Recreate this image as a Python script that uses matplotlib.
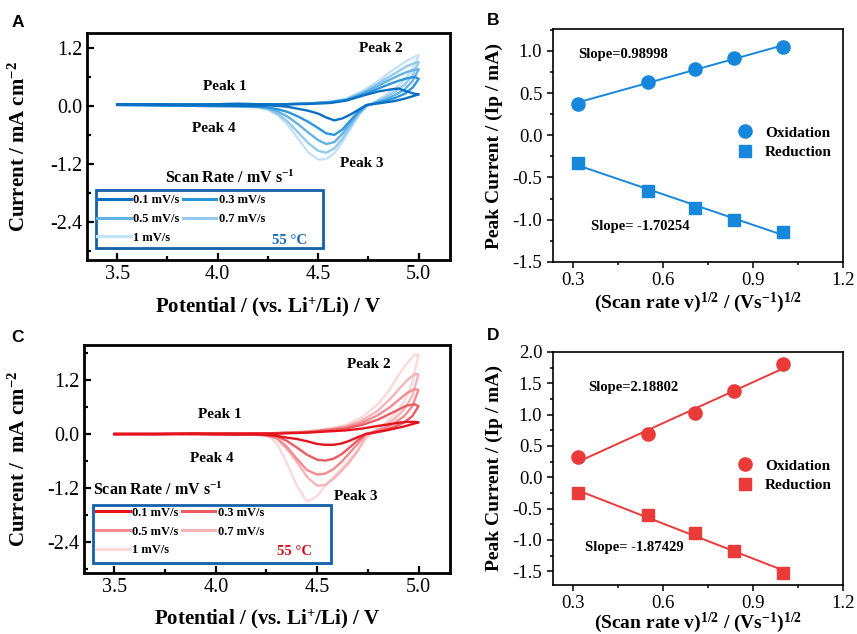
import matplotlib
matplotlib.use("Agg")
import matplotlib.pyplot as plt
import numpy as np
from matplotlib.patches import Rectangle
from matplotlib.lines import Line2D
from matplotlib.ticker import MultipleLocator, FormatStrFormatter
import matplotlib.transforms as mtrans

plt.rcParams.update({
    "font.family": ["Liberation Serif", "DejaVu Serif"],
    "mathtext.fontset": "custom",
    "mathtext.rm": "Liberation Serif:bold",
    "mathtext.it": "Liberation Serif:bold",
    "mathtext.bf": "Liberation Serif:bold",
    "axes.unicode_minus": False,
})

# ---------------- data ----------------
scan_labels = ["0.1 mV/s", "0.3 mV/s", "0.5 mV/s", "0.7 mV/s", "1 mV/s"]

# CV potential grids (V)
fwd_x = [3.5, 3.7, 3.9, 4.1, 4.3, 4.45, 4.56, 4.64, 4.72, 4.8, 4.86, 4.9, 4.94, 4.98, 5.0]
rev_x = [5.0, 4.97, 4.93, 4.88, 4.83, 4.78, 4.74, 4.7, 4.66, 4.62, 4.58, 4.54, 4.5,
         4.45, 4.4, 4.35, 4.3, 4.25, 4.2, 4.1, 3.9, 3.7, 3.5]

# Panel A (blue) currents, mA cm-2
a_fwd_01 = [0.03, 0.03, 0.03, 0.04, 0.03, 0.04, 0.06, 0.11, 0.21, 0.30, 0.34, 0.36, 0.30, 0.25, 0.24]
a_fwd_03 = [0.03, 0.03, 0.03, 0.04, 0.03, 0.05, 0.07, 0.12, 0.23, 0.36, 0.46, 0.52, 0.57, 0.60, 0.56]
a_fwd_05 = [0.03, 0.03, 0.03, 0.04, 0.03, 0.05, 0.08, 0.13, 0.26, 0.42, 0.55, 0.63, 0.70, 0.75, 0.76]
a_fwd_07 = [0.03, 0.03, 0.03, 0.04, 0.03, 0.05, 0.08, 0.14, 0.28, 0.47, 0.62, 0.72, 0.82, 0.89, 0.91]
a_fwd_10 = [0.03, 0.03, 0.03, 0.04, 0.03, 0.05, 0.09, 0.15, 0.31, 0.52, 0.71, 0.82, 0.93, 1.02, 1.05]

a_rev_01 = [0.24, 0.20, 0.15, 0.10, 0.07, 0.04, 0.02, -0.08, -0.18, -0.26, -0.30, -0.24, -0.16,
            -0.10, -0.06, -0.02, 0.0, 0.01, 0.0, 0.0, 0.01, 0.02, 0.03]
a_rev_03 = [0.56, 0.38, 0.25, 0.16, 0.10, 0.05, 0.01, -0.12, -0.30, -0.49, -0.60, -0.57, -0.46,
            -0.33, -0.22, -0.13, -0.07, -0.03, -0.01, 0.0, 0.0, 0.01, 0.02]
a_rev_05 = [0.76, 0.52, 0.34, 0.22, 0.13, 0.06, 0.0, -0.15, -0.36, -0.58, -0.75, -0.79, -0.71,
            -0.55, -0.38, -0.23, -0.12, -0.05, -0.02, -0.01, 0.0, 0.01, 0.02]
a_rev_07 = [0.91, 0.64, 0.44, 0.29, 0.17, 0.07, 0.0, -0.18, -0.43, -0.68, -0.88, -0.97, -0.93,
            -0.77, -0.55, -0.33, -0.17, -0.07, -0.03, -0.01, 0.0, 0.01, 0.02]
a_rev_10 = [1.05, 0.78, 0.54, 0.36, 0.21, 0.08, 0.0, -0.21, -0.48, -0.75, -0.98, -1.10, -1.11,
            -0.96, -0.68, -0.40, -0.20, -0.08, -0.03, -0.01, 0.0, 0.01, 0.02]

# Panel C (red) currents, mA cm-2
c_fwd_01 = [0.0, 0.0, 0.01, 0.01, 0.01, 0.03, 0.06, 0.08, 0.12, 0.18, 0.22, 0.25, 0.27, 0.27, 0.26]
c_fwd_03 = [0.0, 0.0, 0.01, 0.01, 0.02, 0.04, 0.08, 0.12, 0.20, 0.32, 0.45, 0.54, 0.63, 0.66, 0.62]
c_fwd_05 = [0.0, 0.0, 0.01, 0.01, 0.02, 0.05, 0.10, 0.15, 0.25, 0.42, 0.60, 0.75, 0.90, 1.00, 0.98]
c_fwd_07 = [0.0, 0.0, 0.01, 0.01, 0.02, 0.05, 0.11, 0.17, 0.30, 0.52, 0.78, 0.98, 1.18, 1.33, 1.33]
c_fwd_10 = [0.0, 0.0, 0.01, 0.01, 0.02, 0.06, 0.12, 0.20, 0.37, 0.66, 1.00, 1.30, 1.55, 1.76, 1.76]

c_rev_01 = [0.26, 0.22, 0.17, 0.12, 0.07, 0.03, 0.0, -0.07, -0.15, -0.21, -0.24, -0.24, -0.22,
            -0.16, -0.11, -0.08, -0.04, -0.02, -0.01, -0.01, 0.0, 0.0, 0.0]
c_rev_03 = [0.62, 0.40, 0.26, 0.16, 0.09, 0.04, 0.0, -0.14, -0.30, -0.45, -0.55, -0.59, -0.57,
            -0.46, -0.30, -0.15, -0.05, -0.02, -0.01, -0.01, 0.0, 0.0, 0.0]
c_rev_05 = [0.98, 0.62, 0.40, 0.24, 0.13, 0.05, 0.0, -0.22, -0.42, -0.62, -0.78, -0.88, -0.90,
            -0.80, -0.55, -0.28, -0.09, -0.03, -0.01, -0.01, 0.0, 0.0, 0.0]
c_rev_07 = [1.33, 0.85, 0.55, 0.33, 0.18, 0.06, -0.05, -0.38, -0.62, -0.82, -1.00, -1.13, -1.15,
            -0.95, -0.62, -0.33, -0.10, -0.04, -0.02, -0.01, 0.0, 0.0, 0.0]
c_rev_10 = [1.76, 1.15, 0.72, 0.42, 0.22, 0.04, -0.12, -0.36, -0.57, -0.77, -0.95, -1.15, -1.38,
            -1.50, -1.15, -0.64, -0.20, -0.01, 0.0, 0.0, 0.0, 0.0, 0.0]

# Peak current vs sqrt(scan rate)
sqrt_rate = [0.316, 0.548, 0.707, 0.837, 1.0]
b_ox = [0.374, 0.63, 0.787, 0.917, 1.047]
b_red = [-0.327, -0.657, -0.858, -1.004, -1.146]
d_ox = [0.315, 0.69, 1.03, 1.37, 1.80]
d_red = [-0.256, -0.61, -0.89, -1.175, -1.53]

blues = ["#0b6fc4", "#2c96dc", "#62b2e6", "#93cbef", "#c4e2f6"]
reds = ["#e3141e", "#ec5a62", "#f28c91", "#f6b4b7", "#fbd9da"]

# ---------------- figure ----------------
fig = plt.figure(figsize=(8.57, 6.34), dpi=100)
axA = fig.add_axes([0.1015, 0.590, 0.4235, 0.358])
axB = fig.add_axes([0.645, 0.587, 0.3387, 0.367])
axC = fig.add_axes([0.098, 0.0967, 0.427, 0.3593])
axD = fig.add_axes([0.645, 0.0773, 0.3387, 0.3677])

LBL = dict(fontsize=15, fontweight="bold")


def cv_panel(ax, fwds, revs, colors, ylim, ylabel, box, title_xy, title_ha,
             leg_anchor, temp_xy, temp_color, peaks, xlab_y, ylab_x):
    for yf, yr, c in reversed(list(zip(fwds, revs, colors))):
        ax.plot(fwd_x + rev_x, yf + yr, color=c, lw=1.7, solid_joinstyle="round")
    ax.set_xlim(3.35, 5.155)
    ax.set_ylim(*ylim)
    ax.xaxis.set_major_locator(MultipleLocator(0.5))
    ax.xaxis.set_minor_locator(MultipleLocator(0.25))
    ax.yaxis.set_major_locator(MultipleLocator(1.2))
    ax.yaxis.set_minor_locator(MultipleLocator(0.6))
    ax.xaxis.set_major_formatter(FormatStrFormatter("%.1f"))
    ax.yaxis.set_major_formatter(FormatStrFormatter("%.1f"))
    ax.tick_params(which="both", direction="in", labelsize=14.5, width=1.6)
    ax.tick_params(which="major", length=5)
    ax.tick_params(which="minor", length=3)
    for s in ax.spines.values():
        s.set_linewidth(2.0)
    ax.set_xlabel("Potential / (vs. Li$^{+}$/Li) / V", **LBL)
    ax.set_ylabel(ylabel, **LBL)
    ax.xaxis.set_label_coords(0.5, xlab_y)
    ax.yaxis.set_label_coords(ylab_x, 0.5)
    for (txt, px, py) in peaks:
        ax.text(px, py, txt, fontsize=11, fontweight="bold", ha="center", va="center")
    # legend box with shadow
    off = mtrans.ScaledTranslation(2 / 100, -2 / 100, fig.dpi_scale_trans)
    ax.add_patch(Rectangle(box[:2], box[2], box[3], transform=ax.transAxes + off,
                           facecolor="#b9c6d6", edgecolor="none", zorder=6, clip_on=False))
    ax.add_patch(Rectangle(box[:2], box[2], box[3], transform=ax.transAxes,
                           facecolor="white", edgecolor="#1560aa", lw=2.0, zorder=7,
                           clip_on=False))
    ax.text(title_xy[0], title_xy[1], "Scan Rate / mV s$^{-1}$", transform=ax.transAxes,
            fontsize=11.5, fontweight="bold", ha=title_ha, va="center", zorder=8)
    handles = [Line2D([], [], color=c, lw=2.2) for c in colors]
    order = [0, 2, 4, 1, 3]
    leg = ax.legend([handles[i] for i in order], [scan_labels[i] for i in order],
                    ncol=2, loc="upper left", bbox_to_anchor=leg_anchor, frameon=False,
                    prop=dict(size=9, weight="bold"), handlelength=2.7, handletextpad=0.2,
                    columnspacing=0.25, labelspacing=0.55, borderpad=0, borderaxespad=0)
    leg.set_zorder(9)
    ax.text(temp_xy[0], temp_xy[1], "55 °C", transform=ax.transAxes, fontsize=10.5,
            fontweight="bold", color=temp_color, ha="center", va="center", zorder=9)


cv_panel(axA, [a_fwd_01, a_fwd_03, a_fwd_05, a_fwd_07, a_fwd_10],
         [a_rev_01, a_rev_03, a_rev_05, a_rev_07, a_rev_10], blues, (-3.19, 1.51),
         "Current / mA cm$^{-2}$", (0.025, 0.053, 0.625, 0.255), (0.394, 0.361), "center",
         (0.0275, 0.29), (0.559, 0.084), "#1565c0",
         [("Peak 1", 4.037, 0.41), ("Peak 2", 4.81, 1.18), ("Peak 3", 4.716, -1.2),
          ("Peak 4", 3.98, -0.46)], -0.155, -0.157)

cv_panel(axC, [c_fwd_01, c_fwd_03, c_fwd_05, c_fwd_07, c_fwd_10],
         [c_rev_01, c_rev_03, c_rev_05, c_rev_07, c_rev_10], reds, (-3.08, 1.98),
         "Current /  mA cm$^{-2}$", (0.0246, 0.0426, 0.65, 0.254), (0.025, 0.363), "left",
         (0.033, 0.29), (0.575, 0.091), "#d0101a",
         [("Peak 1", 4.022, 0.44), ("Peak 2", 4.753, 1.55), ("Peak 3", 4.69, -1.38),
          ("Peak 4", 3.98, -0.54)], -0.155, -0.148)


def fit_panel(ax, ox, red, color, ylim, slope_texts, leg_y, xlab_y):
    x = np.array(sqrt_rate)
    for yv in (ox, red):
        k, b = np.polyfit(x, yv, 1)
        ax.plot([x[0], x[-1]], [k * x[0] + b, k * x[-1] + b], color=color, lw=1.4, zorder=2)
    ax.plot(x, ox, "o", color=color, ms=9.5, label="Oxidation", zorder=3)
    ax.plot(x, red, "s", color=color, ms=8.5, label="Reduction", zorder=3)
    ax.set_xlim(0.232, 1.2)
    ax.set_ylim(*ylim)
    ax.xaxis.set_major_locator(MultipleLocator(0.3))
    ax.xaxis.set_minor_locator(MultipleLocator(0.15))
    ax.yaxis.set_major_locator(MultipleLocator(0.5))
    ax.yaxis.set_minor_locator(MultipleLocator(0.25))
    ax.xaxis.set_major_formatter(FormatStrFormatter("%.1f"))
    ax.yaxis.set_major_formatter(FormatStrFormatter("%.1f"))
    ax.tick_params(which="both", direction="out", labelsize=13.5, width=1.1)
    ax.tick_params(which="major", length=4)
    ax.tick_params(which="minor", length=2.5)
    for s in ax.spines.values():
        s.set_linewidth(1.2)
    ax.set_xlabel("(Scan rate v)$^{1/2}$ / (Vs$^{-1}$)$^{1/2}$", fontsize=14, fontweight="bold")
    ax.set_ylabel("Peak Current / (Ip / mA)", fontsize=14, fontweight="bold")
    ax.xaxis.set_label_coords(0.5, xlab_y)
    ax.yaxis.set_label_coords(-0.172, 0.5)
    for (txt, px, py) in slope_texts:
        ax.text(px, py, txt, fontsize=10.5, fontweight="bold", ha="center", va="center")
    ax.legend(loc="center left", bbox_to_anchor=(0.636, leg_y), frameon=False,
              prop=dict(size=11, weight="bold"), handlelength=1.0, handletextpad=0.8,
              labelspacing=0.38, borderpad=0, borderaxespad=0)


fit_panel(axB, b_ox, b_red, "#1787dc", (-1.5, 1.257),
          [("Slope=0.98998", 0.467, 0.96), ("Slope= -1.70254", 0.523, -1.077)], 0.513, -0.125)
fit_panel(axD, d_ox, d_red, "#ea3a3a", (-1.72, 2.0),
          [("Slope=2.18802", 0.50, 1.43), ("Slope= -1.87429", 0.503, -1.12)], 0.47, -0.112)

for letter, x, y in [("A", 0.021, 0.965), ("B", 0.575, 0.968), ("C", 0.021, 0.468),
                     ("D", 0.575, 0.471)]:
    fig.text(x, y, letter, fontsize=12.5, fontweight="bold",
             family=["Liberation Sans", "DejaVu Sans"], ha="center", va="center")

fig.savefig("out.png", dpi=100)
